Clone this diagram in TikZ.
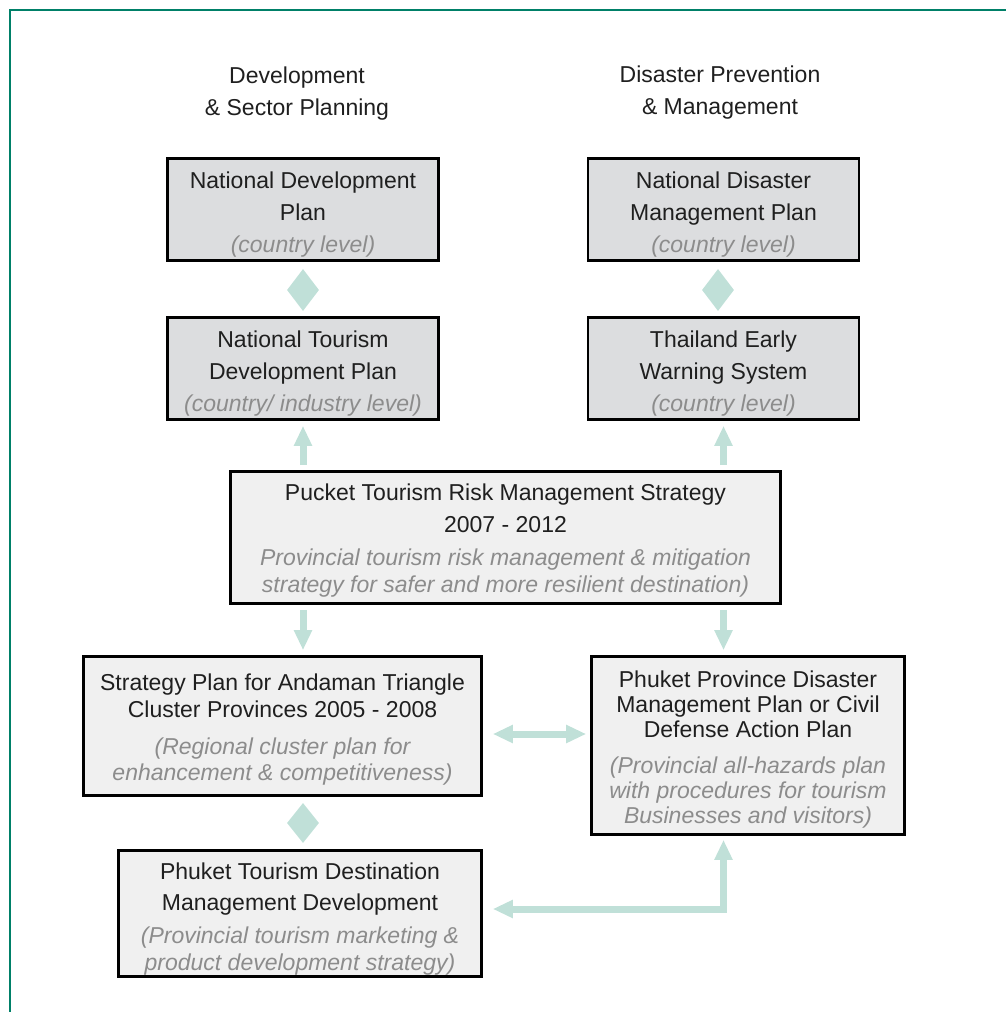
\documentclass[tikz,border=0pt]{standalone}
\usepackage{fontspec}
\setmainfont{Liberation Sans}
\usetikzlibrary{arrows.meta,shapes.geometric}
\definecolor{frame_teal}{RGB}{0,128,104}
\definecolor{box_dark}{RGB}{220,221,223}
\definecolor{box_light}{RGB}{240,240,240}
\definecolor{arrow_mint}{RGB}{192,224,216}
\definecolor{note_gray}{RGB}{140,140,140}
\newcommand{\subnote}[1]{{\color{note_gray}\itshape #1}}
\newcommand{\toppad}[1]{\rule{0pt}{#1}}

\begin{document}
\begin{tikzpicture}[x=1pt,y=-1pt,line join=miter]
    \tikzstyle{plan}=[draw=black, line width=2.6pt, fill=box_dark, align=center, inner sep=0pt, text=black!88]
    \tikzstyle{local}=[plan, fill=box_light]
    \tikzstyle{head}=[align=center, text=black!88, font=\fontsize{23}{32}\selectfont]
    \tikzstyle{link}=[diamond, fill=arrow_mint, minimum width=32pt, minimum height=42pt, inner sep=0pt]
    \tikzstyle{flow}=[-{Triangle[length=20pt,width=17pt]}, line width=7pt, draw=arrow_mint, shorten <=5pt, shorten >=5pt]
    \tikzstyle{both}=[{Triangle[length=20pt,width=17pt]}-{Triangle[length=20pt,width=17pt]}, line width=7pt, draw=arrow_mint]

    \useasboundingbox (0,0) rectangle (1006,1012);
    \draw[frame_teal, line width=2.6pt] (10,1014) -- (10,10) -- (1008,10);

    % column heads
    \node[head] (h1) at (297,93.5)  {Development\\\& Sector Planning};
    \node[head] (h2) at (720,92.5)  {Disaster Prevention\\\& Management};

    % national level
    \node[plan, minimum width=271pt, minimum height=102pt, font=\fontsize{23}{32}\selectfont] (n1) at (303,209.5)
        {\toppad{27pt}National Development\\Plan\\\subnote{(country level)}};
    \node[plan, minimum width=271pt, minimum height=102pt, font=\fontsize{23}{32}\selectfont] (n2) at (723.5,209.5)
        {\toppad{27pt}National Disaster\\Management Plan\\\subnote{(country level)}};
    \node[plan, minimum width=271pt, minimum height=102pt, font=\fontsize{23}{32}\selectfont] (n3) at (303,368.5)
        {\toppad{27pt}National Tourism\\Development Plan\\\subnote{(country/ industry level)}};
    \node[plan, minimum width=271pt, minimum height=102pt, font=\fontsize{23}{32}\selectfont] (n4) at (723.5,368.5)
        {\toppad{27pt}Thailand Early\\Warning System\\\subnote{(country level)}};

    \node[link] (d1) at (303,290)  {};
    \node[link] (d2) at (718,290)  {};

    % provincial strategy
    \node[local, minimum width=550pt, minimum height=132pt, font=\fontsize{23}{27}\selectfont] (p5) at (505.5,537.5)
        {\toppad{23pt}Pucket Tourism Risk Management Strategy\\[5pt]2007 - 2012\\[6pt]
         \subnote{Provincial tourism risk management \& mitigation}\\\subnote{strategy for safer and more resilient destination)}};

    % regional and provincial plans
    \node[local, minimum width=398pt, minimum height=139pt, font=\fontsize{23}{26}\selectfont] (s6) at (282.5,726)
        {\toppad{23pt}Strategy Plan for Andaman Triangle\\[1pt]Cluster Provinces 2005 - 2008\\[11pt]
         \subnote{(Regional cluster plan for}\\\subnote{enhancement \& competitiveness)}};
    \node[local, minimum width=313pt, minimum height=178pt, font=\fontsize{23}{25}\selectfont] (s7) at (748,745.5)
        {\toppad{25pt}Phuket Province Disaster\\Management Plan or Civil\\Defense Action Plan\\[11pt]
         \subnote{(Provincial all-hazards plan}\\\subnote{with procedures for tourism}\\\subnote{Businesses and visitors)}};
    \node[local, minimum width=363pt, minimum height=126pt, font=\fontsize{23}{27}\selectfont] (s8) at (300,913.5)
        {\toppad{27pt}Phuket Tourism Destination\\[4pt]Management Development\\[6pt]
         \subnote{(Provincial tourism marketing \&}\\\subnote{product development strategy)}};

    \node[link, minimum height=40pt] (d3) at (303,823) {};

    \coordinate (mid)  at (540,734);
    \coordinate (turn) at (600,909);

    \path
     (n3.south |- p5.north) edge[flow] (n3.south)
     (n4.south |- p5.north) edge[flow] (n4.south)
     (n3.south |- p5.south) edge[flow] (n3.south |- s6.north)
     (n4.south |- p5.south) edge[flow] (n4.south |- s7.north)
     ;
    \draw[both, shorten <=10pt, shorten >=4pt] (s6.east |- mid) -- (s7.west |- mid);
    \draw[both, shorten <=10pt, shorten >=4pt] (s8.east |- turn) -- (n4.south |- turn) -- (n4.south |- s7.south);
\end{tikzpicture}
\end{document}
